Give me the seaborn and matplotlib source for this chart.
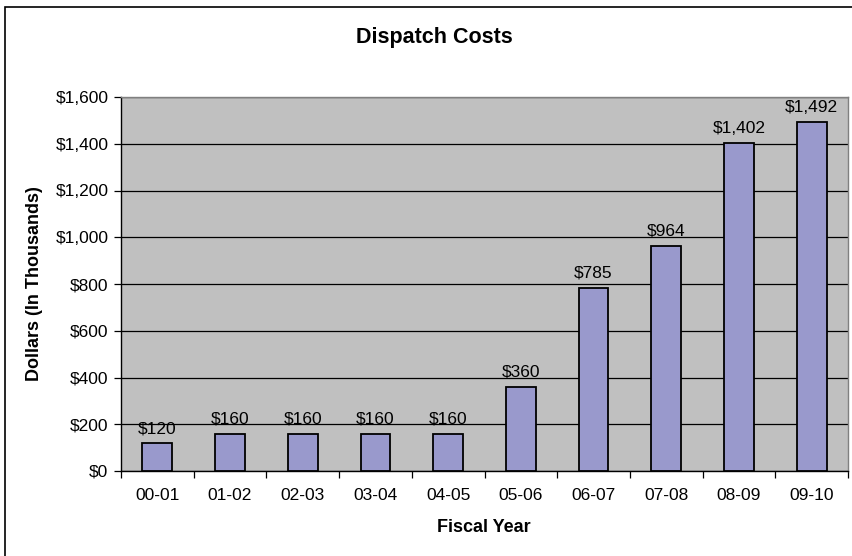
import matplotlib
matplotlib.use("Agg")
import matplotlib.pyplot as plt
import seaborn as sns
import pandas as pd
from matplotlib.patches import Rectangle

years = ["00-01", "01-02", "02-03", "03-04", "04-05",
         "05-06", "06-07", "07-08", "08-09", "09-10"]
costs = [120, 160, 160, 160, 160, 360, 785, 964, 1402, 1492]
y_ticks = [0, 200, 400, 600, 800, 1000, 1200, 1400, 1600]

df = pd.DataFrame({"year": years, "cost": costs})

sns.set_theme(style="white")
plt.rcParams["font.family"] = ["Liberation Sans", "DejaVu Sans"]
plt.rcParams["text.color"] = "black"
plt.rcParams["xtick.color"] = "black"
plt.rcParams["ytick.color"] = "black"

fig = plt.figure(figsize=(8.52, 5.56), dpi=100)
ax = fig.add_axes([121 / 852, 1 - 471 / 556, 727 / 852, 374 / 556])
ax.set_facecolor("#C0C0C0")

sns.barplot(data=df, x="year", y="cost", ax=ax, color="#9999CC",
            saturation=1, width=0.41, edgecolor="black", linewidth=1.3,
            zorder=3)

ax.set_ylim(0, 1600)
ax.set_xlim(-0.5, len(years) - 0.5)
ax.set_yticks(y_ticks)
ax.set_yticklabels([f"${v:,}" for v in y_ticks], fontsize=12.5)
ax.yaxis.grid(True, color="black", linewidth=0.9, zorder=0)
ax.set_axisbelow(True)

# category ticks sit between bars, labels centred under each bar
ax.set_xticks(range(len(years)))
ax.set_xticklabels(years, fontsize=12.5)
ax.tick_params(axis="x", which="major", length=0, pad=12)
ax.set_xticks([i - 0.5 for i in range(len(years) + 1)], minor=True)
ax.tick_params(axis="x", which="minor", length=5, width=0.9, color="black",
               direction="out", bottom=True)
ax.tick_params(axis="y", length=5, width=0.9, color="black",
               direction="out", left=True, pad=4)

for side in ["top", "right"]:
    ax.spines[side].set_color("#808080")
    ax.spines[side].set_linewidth(1.0)
for side in ["left", "bottom"]:
    ax.spines[side].set_color("black")
    ax.spines[side].set_linewidth(1.0)

for i, v in enumerate(costs):
    ax.annotate(f"${v:,}", (i, v), xytext=(0, 5), textcoords="offset points",
                ha="center", va="bottom", fontsize=12.5, color="black")

ax.set_xlabel("")
ax.set_ylabel("")
fig.text(434 / 852, 1 - 38 / 556, "Dispatch Costs", ha="center",
         va="center", fontsize=15.5, fontweight="bold")
fig.text(484 / 852, 1 - 528 / 556, "Fiscal Year", ha="center",
         va="center", fontsize=13, fontweight="bold")
fig.text(35 / 852, 1 - 284 / 556, "Dollars (In Thousands)", ha="center",
         va="center", rotation=90, fontsize=13, fontweight="bold")

# chart border
fig.patches.append(Rectangle((5 / 852, -0.05), 1.0, 1 - 7 / 556 + 0.05,
                             transform=fig.transFigure, fill=False,
                             edgecolor="black", linewidth=1.2))

fig.savefig("out.png", dpi=100)
